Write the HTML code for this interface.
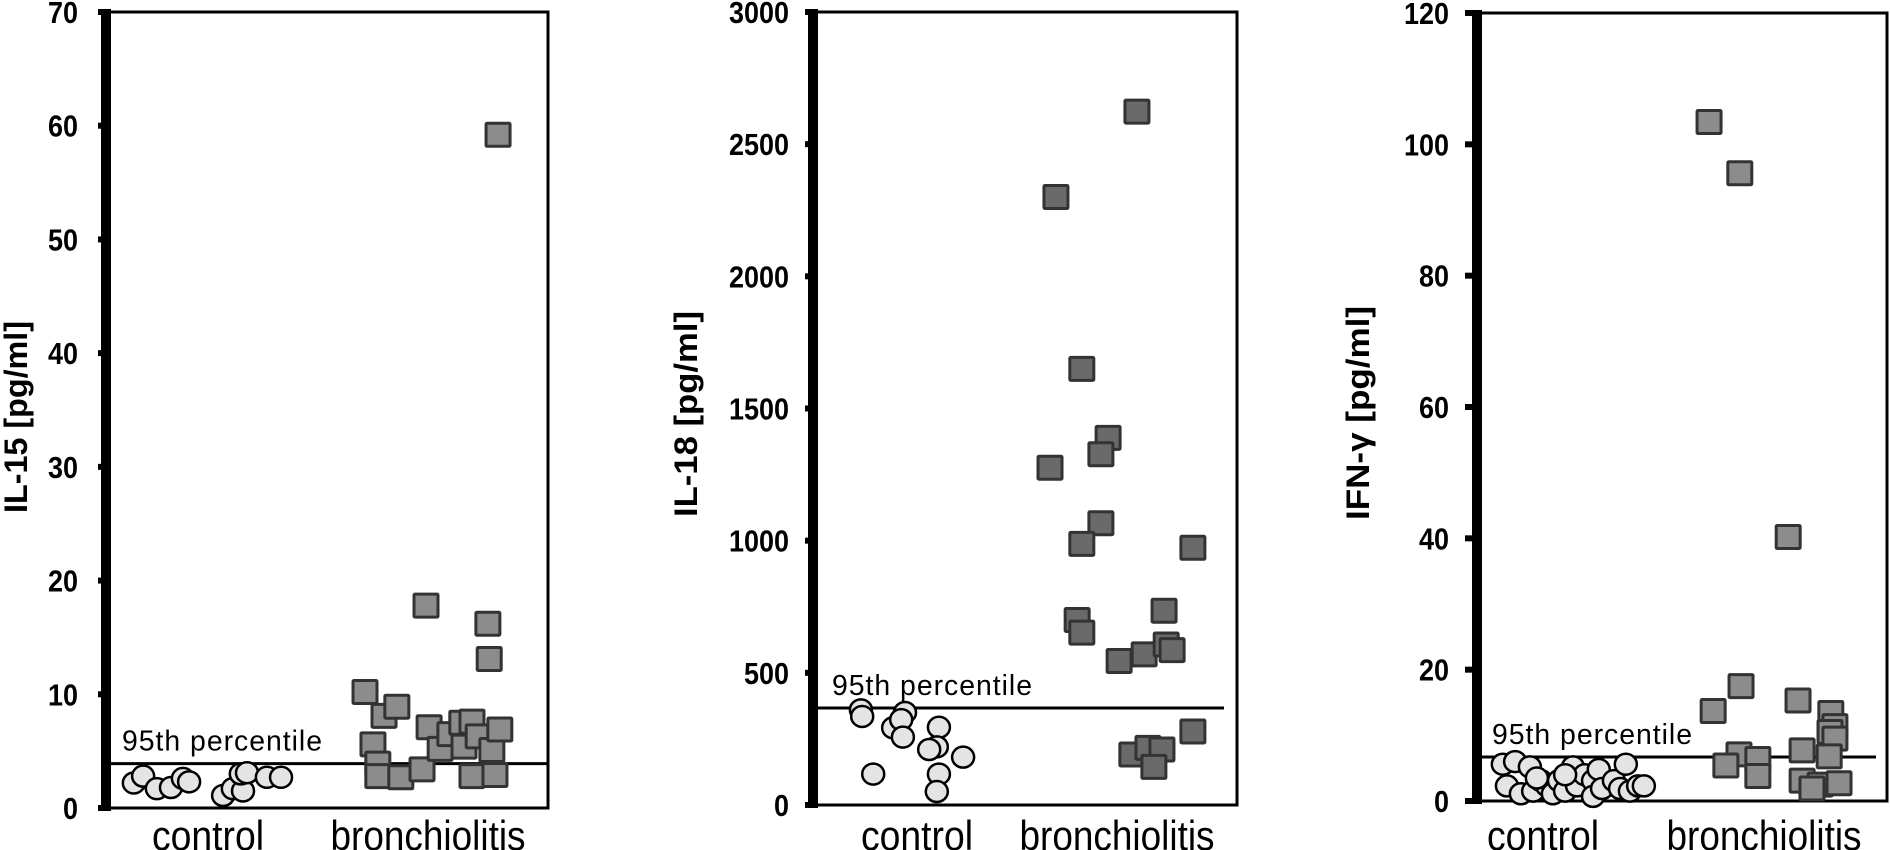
<!DOCTYPE html>
<html><head><meta charset="utf-8"><style>
html,body{margin:0;padding:0;background:#fff;}
svg{display:block;}
text{font-family:"Liberation Sans",Arial,sans-serif;}
</style></head><body>
<svg id="chart" width="1890" height="850" viewBox="0 0 1890 850" xmlns="http://www.w3.org/2000/svg"></svg>
<script>
// ---- data ----
const categories = ["control", "bronchiolitis"];
// Panel 1: IL-15
const il15Ticks = [0,10,20,30,40,50,60,70];
const il15Control = [2.2,2.8,1.7,1.8,2.6,2.3,1.1,1.7,1.5,3.0,3.1,2.7,2.7];
const il15ControlJitter = [.063,.084,.115,.147,.174,.188,.265,.287,.31,.305,.319,.364,.396];
const il15Bronch = [10.2,8.1,8.9,5.6,3.9,2.8,2.7,17.8,7.1,3.4,5.2,6.5,7.5,7.6,5.4,2.8,6.3,16.2,13.1,5.1,6.9,2.9,59.2];
const il15BronchJitter = [.586,.629,.658,.604,.615,.615,.667,.724,.731,.715,.756,.778,.805,.828,.81,.828,.842,.864,.867,.873,.891,.88,.887];
const il15Cutoff = 3.9;
// Panel 2: IL-18
const il18Ticks = [0,500,1000,1500,2000,2500,3000];
const il18Control = [360,335,292,350,323,257,294,220,210,181,117,117,51];
const il18ControlJitter = [.113,.116,.189,.217,.208,.212,.297,.292,.274,.354,.142,.297,.292];
const il18Bronch = [2300,2623,1650,1389,1327,1276,1066,988,700,652,545,570,607,586,735,973,191,216,210,144,278];
const il18BronchJitter = [.573,.764,.634,.696,.679,.559,.679,.634,.623,.634,.722,.781,.833,.847,.828,.896,.752,.79,.823,.804,.896];
const il18Cutoff = 367;
// Panel 3: IFN-gamma
const ifnTicks = [0,20,40,60,80,100,120];
const ifnControl = [5.6,6.0,5.2,2.3,1.1,1.5,3.1,2.3,1.1,3.1,1.5,5.2,2.3,4.0,3.1,0.7,4.8,1.9,3.1,1.9,5.6,1.5,2.3,2.3,4.0,3.5];
const ifnControlJitter = [.063,.093,.129,.073,.107,.137,.156,.171,.185,.2,.215,.234,.244,.263,.283,.283,.297,.305,.334,.349,.363,.373,.393,.407,.215,.146];
const ifnBronch = [103.4,95.6,40.2,17.5,13.7,15.3,13.4,11.4,10.5,9.5,7.7,6.8,7.1,6.4,5.4,3.8,3.1,2.5,2.7,1.9];
const ifnBronchJitter = [.566,.641,.759,.644,.576,.783,.863,.873,.861,.873,.793,.859,.639,.685,.607,.685,.793,.837,.883,.817];
const ifnCutoff = 6.7;

const NS = "http://www.w3.org/2000/svg";
const svg = document.getElementById("chart");
function mk(tag, attrs, parent){
  const e = document.createElementNS(NS, tag);
  for (const k in attrs) e.setAttribute(k, attrs[k]);
  (parent||svg).appendChild(e);
  return e;
}

function panel(cfg){
  const g = mk("g", {});
  
  
  const yS = v => cfg.y0 - (v - 0) / cfg.max * (cfg.y0 - cfg.yTop);
  const xS = u => cfg.left + u * (cfg.right - cfg.left);
  const box = mk("rect", {x:cfg.left, y:cfg.yTop, width:cfg.right-cfg.left, height:cfg.y0-cfg.yTop, fill:"none", stroke:"#000", "stroke-width":3}, g);
  
  
  cfg.ticks.forEach(t => {
    const y = yS(t);
    const tk = mk("line", {x1:cfg.tickLeft, x2:cfg.left, y1:y, y2:y, stroke:"#000", "stroke-width":6}, g);
    
    
    const s = String(t);
    const lb = mk("text", {x:cfg.labelRight, y:y+11, "text-anchor":"end", "font-size":31, "font-weight":"bold", textLength:s.length*15, lengthAdjust:"spacingAndGlyphs"}, g);
    lb.textContent = s;
    
    
  });
  const ax = mk("line", {x1:cfg.left, x2:cfg.left, y1:cfg.yTop-3, y2:cfg.y0+3, stroke:"#000", "stroke-width":10}, g);
  
  
  const tt = mk("text", {x:0, y:0, transform:`translate(${cfg.titleX},${cfg.titleY}) rotate(-90)`, "text-anchor":"middle", "font-size":32, "font-weight":"bold", textLength:cfg.titleLen, lengthAdjust:"spacingAndGlyphs"}, g);
  tt.textContent = cfg.title;
  
  
  const cy = yS(cfg.cutoff);
  const cl = mk("line", {x1:cfg.left+5, x2:cfg.lineRight, y1:cy, y2:cy, stroke:"#000", "stroke-width":3}, g);
  
  
  const ct = mk("text", {x:cfg.pctX, y:cy-13, "font-size":29, "letter-spacing":"1", textLength:201, lengthAdjust:"spacingAndGlyphs"}, g);
  ct.textContent = "95th percentile";
  
  
  cfg.ctrl.forEach((v,i) => {
    const c = mk("ellipse", {cx:xS(cfg.ctrlJ[i]), cy:yS(v), rx:11, ry:10.5, fill:"#e4e4e4", stroke:"#000", "stroke-width":2.5}, g);
    
    
  });
  cfg.br.forEach((v,i) => {
    const r = mk("rect", {x:xS(cfg.brJ[i])-12, y:yS(v)-11.5, width:24, height:23, fill:cfg.sqFill, stroke:"#333", "stroke-width":3, rx:1}, g);
    
    
  });
  categories.forEach((c,i) => {
    const t = mk("text", {x:cfg.catX[i], y:850, "text-anchor":"middle", "font-size":42, textLength:i===0?112:195, lengthAdjust:"spacingAndGlyphs"}, g);
    t.textContent = c;
    
    
  });
}

panel({name:"il15", left:106, right:548, yTop:12, y0:808, max:70, ticks:il15Ticks, tickLeft:98, labelRight:78,
  title:"IL-15 [pg/ml]", titleX:27, titleY:417, titleLen:192, cutoff:il15Cutoff, lineRight:548, pctX:122,
  ctrl:il15Control, ctrlJ:il15ControlJitter, br:il15Bronch, brJ:il15BronchJitter, sqFill:"#8c8c8c", catX:[208,428]});
panel({name:"il18", left:813, right:1237, yTop:12, y0:805, max:3000, ticks:il18Ticks, tickLeft:805, labelRight:789,
  title:"IL-18 [pg/ml]", titleX:697, titleY:414, titleLen:206, cutoff:il18Cutoff, lineRight:1224, pctX:832,
  ctrl:il18Control, ctrlJ:il18ControlJitter, br:il18Bronch, brJ:il18BronchJitter, sqFill:"#6a6a6a", catX:[917,1117]});
panel({name:"ifn-gamma", left:1477, right:1887, yTop:13, y0:801, max:120, ticks:ifnTicks, tickLeft:1465, labelRight:1449,
  title:"IFN-\u03b3 [pg/ml]", titleX:1369, titleY:413, titleLen:214, cutoff:ifnCutoff, lineRight:1876, pctX:1492,
  ctrl:ifnControl, ctrlJ:ifnControlJitter, br:ifnBronch, brJ:ifnBronchJitter, sqFill:"#8c8c8c", catX:[1543,1764]});
</script>
</body></html>
